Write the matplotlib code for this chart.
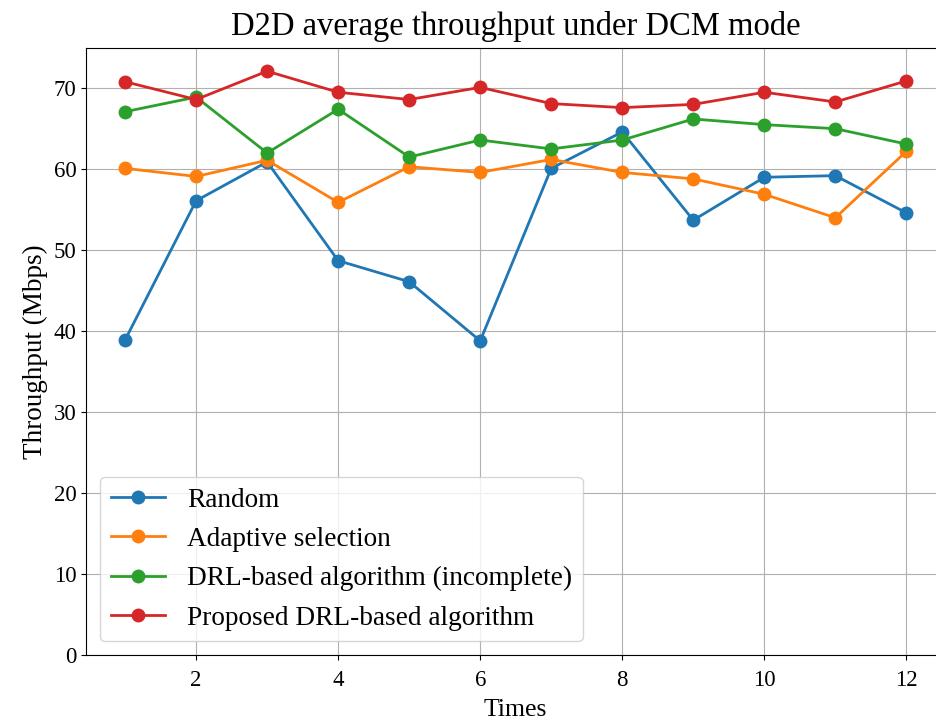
import matplotlib
matplotlib.use("Agg")
import matplotlib.pyplot as plt

plt.rcParams['font.family'] = ['Liberation Serif', 'DejaVu Serif']

# data
times = [1, 2, 3, 4, 5, 6, 7, 8, 9, 10, 11, 12]
random_sel = [38.9, 56.1, 60.9, 48.7, 46.1, 38.8, 60.1, 64.6, 53.7, 59.0, 59.2, 54.6]
adaptive = [60.1, 59.1, 61.1, 55.9, 60.3, 59.6, 61.2, 59.6, 58.8, 56.9, 54.0, 62.2]
drl_incomplete = [67.1, 68.9, 62.0, 67.4, 61.5, 63.6, 62.5, 63.6, 66.2, 65.5, 65.0, 63.1]
drl_proposed = [70.8, 68.6, 72.1, 69.5, 68.6, 70.1, 68.1, 67.6, 68.0, 69.5, 68.3, 70.9]

series = [
    ("Random", random_sel),
    ("Adaptive selection", adaptive),
    ("DRL-based algorithm (incomplete)", drl_incomplete),
    ("Proposed DRL-based algorithm", drl_proposed),
]

fig = plt.figure(figsize=(9.37, 7.24), dpi=100)
# axes runs a little past the right edge, like the cropped original
ax = fig.add_axes([0.0918, 0.0953, 0.9172, 0.8388])

for name, vals in series:
    ax.plot(times, vals, marker='o', lw=2, ms=9, label=name)

ax.set_ylim(0, 75)
ax.set_xlim(0.45, 12.55)
ax.grid(True)
ax.tick_params(labelsize=16.5)
ax.tick_params(axis='x', pad=7)

ax.set_title("D2D average throughput under DCM mode", fontsize=23.5, pad=9)
ax.set_xlabel("Times", fontsize=18.5, labelpad=6)
ax.set_ylabel("Throughput (Mbps)", fontsize=19.5, labelpad=4)
ax.legend(loc='lower left', fontsize=19.6, labelspacing=0.52)

fig.savefig("out.png", dpi=100)
